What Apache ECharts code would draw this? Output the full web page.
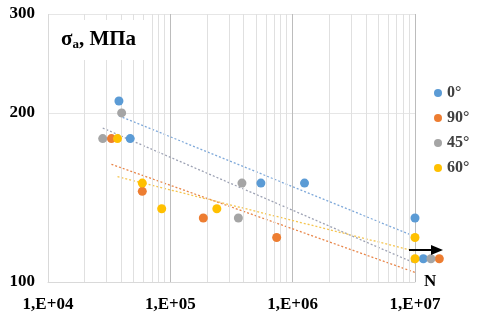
<!DOCTYPE html>
<html>
<head>
<meta charset="utf-8">
<script src="https://cdn.jsdelivr.net/npm/echarts@6/dist/echarts.min.js"></script>
<style>
  html, body { margin: 0; padding: 0; background: #fff; }
  #container { width: 482px; height: 317px; }
</style>
</head>
<body>
<div id="container"></div>
<script>
'use strict';
// x: cycles N (log), y: stress amplitude, MPa (log)
var xDecades = [4, 5, 6, 7];
var xTickLabels = ['1,E+04', '1,E+05', '1,E+06', '1,E+07'];
var yTicks = [100, 200, 300];

var seriesNames = ['0°', '90°', '45°', '60°'];
var seriesColors = ['#5B9BD5', '#ED7D31', '#A5A5A5', '#FFC000'];
var trendColors = ['#7fa9da', '#e8864a', '#9da2b4', '#f5c550'];

var n0 = [3.8e4, 4.7e4, 5.5e5, 1.25e6, 1.0e7, 1.17e7];
var s0 = [210, 180, 150, 150, 130, 110];
var n90 = [3.3e4, 5.9e4, 1.86e5, 7.4e5, 1.58e7];
var s90 = [180, 145, 130, 120, 110];
var n45 = [2.8e4, 4.0e4, 3.6e5, 3.85e5, 1.35e7];
var s45 = [180, 200, 130, 150, 110];
var n60 = [3.7e4, 5.9e4, 8.5e4, 2.4e5, 1.0e7, 1.0e7];
var s60 = [180, 150, 135, 135, 120, 110];

// dotted trendlines (start / end)
var trendStartN = [3.8e4, 3.3e4, 2.8e4, 3.7e4];
var trendEndN = [1e7, 1e7, 1e7, 1e7];
var trendStartS = [197.6, 162, 188, 154];
var trendEndS = [120.5, 104, 108, 113.5];

var lg = Math.log10;
function pts(n, s) {
    return n.map(function (v, i) { return [lg(v), lg(s[i])]; });
}
var allN = [n0, n90, n45, n60];
var allS = [s0, s90, s45, s60];

// minor log grid lines 2..9 x 10^d
var minorX = [];
for (var d = 4; d < 7; d++) {
    for (var k = 2; k < 10; k++) minorX.push(lg(k * Math.pow(10, d)));
}

var serif = "'Liberation Serif', 'Times New Roman', serif";
var series = [];

series.push({
    type: 'line', data: [], silent: true,
    markLine: {
        silent: true, symbol: 'none', label: { show: false },
        lineStyle: { color: '#e0e0e0', type: 'solid', width: 1 },
        data: minorX.map(function (v) { return { xAxis: v }; })
    }
});

for (var t = 0; t < 4; t++) {
    series.push({
        type: 'line', silent: true, showSymbol: false, z: 3,
        data: [[lg(trendStartN[t]), lg(trendStartS[t])], [lg(trendEndN[t]), lg(trendEndS[t])]],
        lineStyle: { color: trendColors[t], type: [2, 2], width: 1.3 }
    });
}
for (var i = 0; i < 4; i++) {
    series.push({
        name: seriesNames[i], type: 'scatter', clip: false, z: 5,
        symbolSize: 9,
        itemStyle: { color: seriesColors[i], opacity: 1 },
        data: pts(allN[i], allS[i])
    });
}

var myChart = echarts.init(document.getElementById('container'), null, { renderer: 'canvas' });
myChart.setOption({
    animation: false,
    backgroundColor: '#fff',
    grid: { left: 48, right: 67, top: 14, bottom: 35 },
    title: {
        left: 51, top: 19,
        padding: [9, 8, 9, 10],
        backgroundColor: '#fff',
        text: '{s|σ}{sub|a}{s|, МПа}',
        textStyle: {
            rich: {
                s: { fontFamily: serif, fontWeight: 'bold', fontSize: 21, color: '#000' },
                sub: { fontFamily: serif, fontWeight: 'bold', fontSize: 13, color: '#000', padding: [10, 0, 0, 0] }
            }
        }
    },
    legend: {
        data: seriesNames,
        orient: 'vertical',
        left: 429, top: 80,
        itemWidth: 8, itemHeight: 8, itemGap: 9,
        icon: 'circle',
        textStyle: { fontFamily: serif, fontWeight: 'bold', fontSize: 16, color: '#404040', lineHeight: 16 }
    },
    xAxis: {
        type: 'value',
        min: xDecades[0], max: xDecades[xDecades.length - 1], interval: 1,
        name: 'N', nameLocation: 'end', nameGap: 9,
        nameTextStyle: { fontFamily: serif, fontWeight: 'bold', fontSize: 17, color: '#000' },
        axisLine: { show: true, lineStyle: { color: '#d9d9d9' } },
        axisTick: { show: false },
        axisLabel: {
            margin: 14,
            fontFamily: serif, fontWeight: 'bold', fontSize: 17, color: '#000',
            formatter: function (v) { return xTickLabels[xDecades.indexOf(v)]; }
        },
        splitLine: { show: true, lineStyle: { color: ['#d9d9d9', '#bcbcbc', '#bcbcbc', '#bcbcbc'], width: 1 } }
    },
    yAxis: {
        type: 'value',
        min: lg(yTicks[0]), max: lg(yTicks[yTicks.length - 1]),
        axisLine: { show: false },
        axisTick: { show: false, customValues: yTicks.map(function (v) { return lg(v); }) },
        axisLabel: {
            margin: 13,
            customValues: yTicks.map(function (v) { return lg(v); }),
            fontFamily: serif, fontWeight: 'bold', fontSize: 17, color: '#000',
            formatter: function (v) { return String(Math.round(Math.pow(10, v))); }
        },
        splitLine: { show: true, lineStyle: { color: '#e6e6e6' } }
    },
    graphic: [
        { type: 'line', z: 10, shape: { x1: 409, y1: 250, x2: 434, y2: 250 }, style: { stroke: '#000', lineWidth: 2 } },
        { type: 'polygon', z: 10, shape: { points: [[431, 245], [443, 250], [431, 255]] }, style: { fill: '#000' } }
    ],
    series: series
});
</script>
</body>
</html>
